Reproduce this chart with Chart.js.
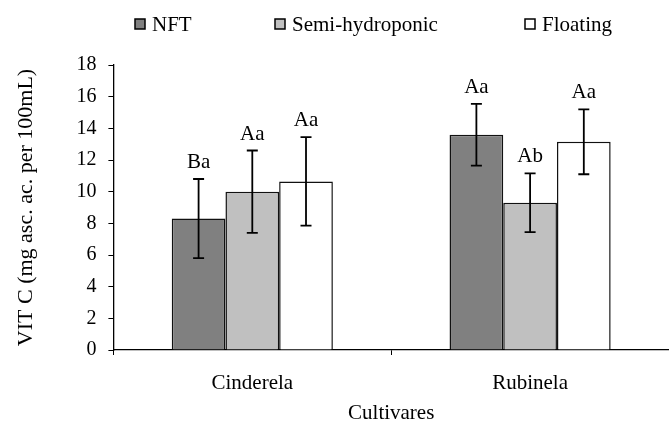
<!DOCTYPE html>
<html>
<head>
<meta charset="utf-8">
<script src="https://cdn.jsdelivr.net/npm/chart.js@4"></script>
<style>
  html, body { margin: 0; padding: 0; background: #fff; }
  #wrap { width: 669px; height: 423px; position: relative; }
</style>
</head>
<body>
<div id="wrap"><canvas id="vitChart"></canvas></div>
<script>
// data
const categories = ['Cinderela', 'Rubinela'];
const seriesNames = ['NFT', 'Semi-hydroponic', 'Floating'];
const nftValues = [8.3, 13.6];
const nftErrors = [2.5, 1.95];
const semiValues = [10.0, 9.3];
const semiErrors = [2.6, 1.85];
const floatValues = [10.65, 13.15];
const floatErrors = [2.8, 2.05];
const nftLetters = ['Ba', 'Aa'];
const semiLetters = ['Aa', 'Ab'];
const floatLetters = ['Aa', 'Aa'];
const yMin = 0, yMax = 18, yStep = 2;

const serif = "'Liberation Serif', 'Times New Roman', serif";
const errors = [nftErrors, semiErrors, floatErrors];
const letters = [nftLetters, semiLetters, floatLetters];

// error bars + letters above them
const errorBarPlugin = {
    id: 'errorBars',
    afterDatasetsDraw(chart) {
        const ctx = chart.ctx;
        const y = chart.scales.y;
        ctx.save();
        chart.data.datasets.forEach((ds, di) => {
            const meta = chart.getDatasetMeta(di);
            meta.data.forEach((bar, i) => {
                const v = ds.data[i], e = errors[di][i];
                const top = y.getPixelForValue(v + e);
                const bot = y.getPixelForValue(v - e);
                ctx.strokeStyle = '#000';
                ctx.lineWidth = 1.8;
                ctx.beginPath();
                ctx.moveTo(bar.x, top); ctx.lineTo(bar.x, bot);
                ctx.moveTo(bar.x - 5.5, top); ctx.lineTo(bar.x + 5.5, top);
                ctx.moveTo(bar.x - 5.5, bot); ctx.lineTo(bar.x + 5.5, bot);
                ctx.stroke();
                ctx.fillStyle = '#000';
                ctx.font = '21px ' + serif;
                ctx.textAlign = 'center';
                ctx.textBaseline = 'alphabetic';
                ctx.fillText(letters[di][i], bar.x, top - 11);
            });
        });
        ctx.restore();
    }
};

// legend drawn by hand so it sits where the original one does
const legendPlugin = {
    id: 'manualLegend',
    afterDraw(chart) {
        const ctx = chart.ctx;
        const xs = [135, 275, 525];
        ctx.save();
        ctx.font = '21px ' + serif;
        ctx.textBaseline = 'middle';
        ctx.textAlign = 'left';
        chart.data.datasets.forEach((ds, i) => {
            ctx.fillStyle = ds.backgroundColor;
            ctx.fillRect(xs[i], 19, 10, 10);
            ctx.strokeStyle = '#000';
            ctx.lineWidth = 1.5;
            ctx.strokeRect(xs[i], 19, 10, 10);
            ctx.fillStyle = '#000';
            ctx.fillText(ds.label, xs[i] + 17, 25);
        });
        ctx.restore();
    }
};

const ctx = document.getElementById('vitChart').getContext('2d');
new Chart(ctx, {
    type: 'bar',
    data: {
        labels: categories,
        datasets: [
            { label: seriesNames[0], data: nftValues, backgroundColor: '#808080' },
            { label: seriesNames[1], data: semiValues, backgroundColor: '#c0c0c0' },
            { label: seriesNames[2], data: floatValues, backgroundColor: '#ffffff' }
        ].map(d => Object.assign(d, {
            borderColor: '#111', borderWidth: 1.5,
            categoryPercentage: 0.58, barPercentage: 1.0
        }))
    },
    options: {
        responsive: true,
        maintainAspectRatio: false,
        animation: false,
        layout: { padding: { top: 65, right: 0, bottom: -1, left: 0 } },
        plugins: {
            legend: { display: false },
            tooltip: { enabled: false }
        },
        scales: {
            x: {
                grid: { drawOnChartArea: false, drawTicks: true, tickLength: 5, color: '#000', offset: true },
                border: { display: true, color: '#000', width: 1.3 },
                ticks: { color: '#000', font: { family: serif, size: 21, lineHeight: 1 }, padding: 18 },
                title: {
                    display: true, text: 'Cultivares', color: '#000',
                    font: { family: serif, size: 21, lineHeight: 1 },
                    padding: { top: -9, bottom: 0 }
                }
            },
            y: {
                min: yMin, max: yMax,
                grid: { drawOnChartArea: false, drawTicks: true, tickLength: 5, color: '#000' },
                border: { display: true, color: '#000', width: 1.3 },
                ticks: { stepSize: yStep, color: '#000', font: { family: serif, size: 20 }, padding: 12 },
                title: {
                    display: true, text: 'VIT C (mg asc. ac. per 100mL)', color: '#000',
                    font: { family: serif, size: 22, lineHeight: 1.2 },
                    padding: { top: 13, bottom: 25 }
                }
            }
        }
    },
    plugins: [errorBarPlugin, legendPlugin]
});
</script>
</body>
</html>
